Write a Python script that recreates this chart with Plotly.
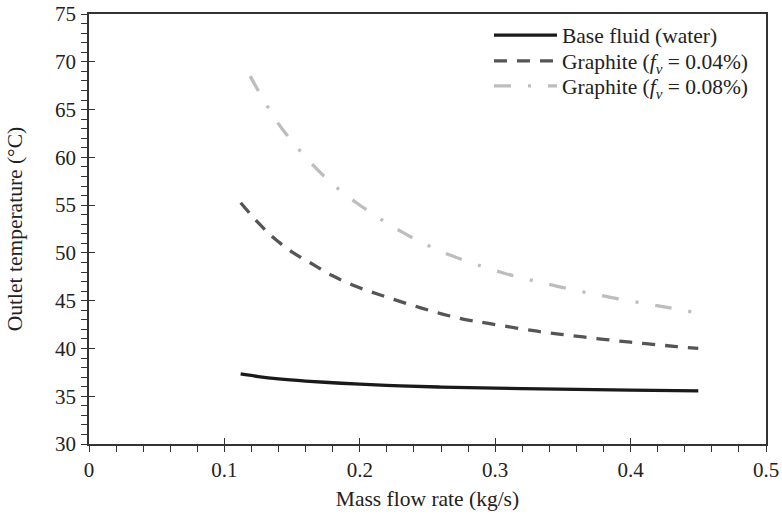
import plotly.graph_objects as go

# Data
base_x = [0.112, 0.125, 0.14, 0.16, 0.18, 0.2, 0.23, 0.26, 0.29, 0.32, 0.36, 0.4, 0.45]
base_y = [37.33, 37.06, 36.82, 36.59, 36.41, 36.26, 36.08, 35.96, 35.87, 35.8, 35.72, 35.64, 35.55]

g04_x = [0.112, 0.126, 0.137, 0.151, 0.166, 0.18, 0.197, 0.213, 0.229, 0.245, 0.261,
         0.277, 0.296, 0.331, 0.365, 0.4, 0.434, 0.45]
g04_y = [55.25, 53.0, 51.5, 50.0, 48.75, 47.6, 46.5, 45.7, 44.95, 44.25, 43.6,
         43.05, 42.6, 41.8, 41.2, 40.65, 40.2, 40.0]

g08_x = [0.119, 0.129, 0.139, 0.151, 0.166, 0.18, 0.197, 0.213, 0.231, 0.247, 0.267,
         0.306, 0.346, 0.387, 0.427, 0.45]
g08_y = [68.5, 66.0, 63.7, 61.5, 59.1, 57.2, 55.3, 53.75, 52.2, 51.0, 49.75,
         47.9, 46.5, 45.3, 44.3, 43.7]

names = ["Base fluid (water)",
         "Graphite (<i>f</i><sub><i>v</i></sub> = 0.04%)",
         "Graphite (<i>f</i><sub><i>v</i></sub> = 0.08%)"]

x_ticks = [0, 0.1, 0.2, 0.3, 0.4, 0.5]
x_ticklabels = ["0", "0.1", "0.2", "0.3", "0.4", "0.5"]
y_ticks = [30, 35, 40, 45, 50, 55, 60, 65, 70, 75]

font_family = "Liberation Serif, Times New Roman, serif"
axis_color = "#333333"
text_color = "#222222"
FS = 21
FS_T = 21.5

fig = go.Figure()
fig.add_trace(go.Scatter(x=base_x, y=base_y, mode="lines", name=names[0], legend="legend",
                         line=dict(color="#1a1a1a", width=3.3, shape="spline")))
fig.add_trace(go.Scatter(x=g04_x, y=g04_y, mode="lines", name=names[1], legend="legend2",
                         line=dict(color="#555555", width=3.3, dash="13px,10px", shape="spline")))
fig.add_trace(go.Scatter(x=g08_x, y=g08_y, mode="lines", name=names[2], legend="legend3",
                         line=dict(color="#bdbdbd", width=3.3, dash="17px,17px,3px,17px", shape="spline")))

common_axis = dict(showgrid=False, zeroline=False, showline=True, linecolor=axis_color,
                   linewidth=1.5, mirror=True, ticks="outside", tickcolor=axis_color,
                   tickwidth=1.2, ticklen=6, automargin=False,
                   tickfont=dict(family=font_family, size=FS, color=text_color))


def legend_box(yc):
    return dict(x=0.5908, y=yc, xanchor="left", yanchor="middle",
                bgcolor="rgba(0,0,0,0)",
                font=dict(family=font_family, size=FS_T, color=text_color),
                itemwidth=63, tracegroupgap=0)


fig.update_layout(
    width=782, height=515,
    margin=dict(l=89, r=16, t=14, b=71),
    paper_bgcolor="white", plot_bgcolor="white",
    font=dict(family=font_family, size=FS, color=text_color),
    showlegend=True,
    legend=legend_box(0.951),
    legend2=legend_box(0.891),
    legend3=legend_box(0.833),
    xaxis=dict(range=[0, 0.5], tickvals=x_ticks, ticktext=x_ticklabels, ticklabelstandoff=0,
               minor=dict(dtick=0.02, ticks="outside", ticklen=6, tickcolor=axis_color, tickwidth=1),
               title=dict(text="Mass flow rate (kg/s)", standoff=10,
                          font=dict(family=font_family, size=FS_T, color=text_color)),
               **common_axis),
    yaxis=dict(range=[30, 75], tickvals=y_ticks, ticklabelstandoff=1,
               minor=dict(dtick=1, ticks="outside", ticklen=6, tickcolor=axis_color, tickwidth=1),
               title=dict(text="Outlet temperature (°C)", standoff=27,
                          font=dict(family=font_family, size=FS_T, color=text_color)),
               **common_axis),
    xaxis2=dict(overlaying="x", range=[0, 0.5], tickvals=x_ticks, ticks="inside",
                ticklen=6, tickcolor=axis_color, tickwidth=1.2, showticklabels=False,
                showgrid=False, zeroline=False, showline=False, side="bottom", automargin=False),
    yaxis2=dict(overlaying="y", range=[30, 75], tickvals=y_ticks, ticks="inside",
                ticklen=6, tickcolor=axis_color, tickwidth=1.2, showticklabels=False,
                showgrid=False, zeroline=False, showline=False, side="left", automargin=False),
)
# invisible trace to activate the overlay axes (crossing major ticks)
fig.add_trace(go.Scatter(x=[None], y=[None], xaxis="x2", yaxis="y2",
                         showlegend=False, hoverinfo="skip"))

# remove the default page margin so the figure sits at the window's top-left corner
fig.write_html("out.html", config={"displayModeBar": False},
               post_script="document.body.style.margin='0';document.body.style.overflow='hidden';")
